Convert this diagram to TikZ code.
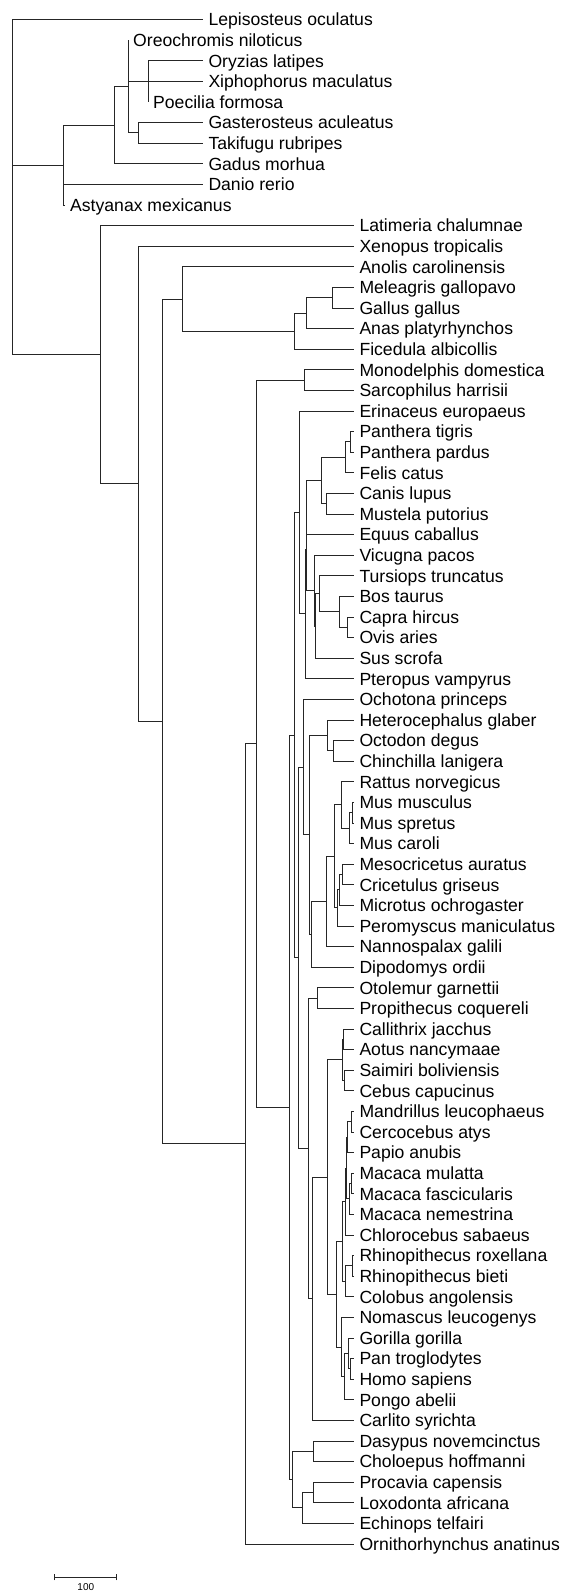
\documentclass[tikz,border=0pt]{standalone}
\usepackage{fontspec}
\setmainfont{Liberation Sans}
\tikzset{
  br/.style={line width=1pt, draw=black!85},
  lab/.style={anchor=west, inner xsep=5pt, inner ysep=0pt, text height=12.6pt, text depth=0pt, font=\fontsize{17.6}{20}\selectfont},
  sblab/.style={inner sep=0pt, text height=7.2pt, text depth=0pt, font=\fontsize{10}{12}\selectfont},
}
\newcommand\leaf[4]{\node[lab] (#1) at (#2,{19.6+(#3-1)*20.6}) {#4};}
\newcommand\el[2]{\draw[br] (#1) |- (#2.west);}
\newcommand\ei[2]{\draw[br] (#1) |- (#2);}
\begin{document}
\begin{tikzpicture}[x=1pt,y=-1pt]
\useasboundingbox (0,0) rectangle (565,1591);
% leaves
\leaf{L1}{203.3}{1}{Lepisosteus oculatus}
\leaf{L2}{128}{2}{Oreochromis niloticus}
\leaf{L3}{203.3}{3}{Oryzias latipes}
\leaf{L4}{203.3}{4}{Xiphophorus maculatus}
\leaf{L5}{148}{5}{Poecilia formosa}
\leaf{L6}{203.3}{6}{Gasterosteus aculeatus}
\leaf{L7}{203.3}{7}{Takifugu rubripes}
\leaf{L8}{203.3}{8}{Gadus morhua}
\leaf{L9}{203.3}{9}{Danio rerio}
\leaf{L10}{65}{10}{Astyanax mexicanus}
\leaf{L11}{354.3}{11}{Latimeria chalumnae}
\leaf{L12}{354.3}{12}{Xenopus tropicalis}
\leaf{L13}{354.3}{13}{Anolis carolinensis}
\leaf{L14}{354.3}{14}{Meleagris gallopavo}
\leaf{L15}{354.3}{15}{Gallus gallus}
\leaf{L16}{354.3}{16}{Anas platyrhynchos}
\leaf{L17}{354.3}{17}{Ficedula albicollis}
\leaf{L18}{354.3}{18}{Monodelphis domestica}
\leaf{L19}{354.3}{19}{Sarcophilus harrisii}
\leaf{L20}{354.3}{20}{Erinaceus europaeus}
\leaf{L21}{354.3}{21}{Panthera tigris}
\leaf{L22}{354.3}{22}{Panthera pardus}
\leaf{L23}{354.3}{23}{Felis catus}
\leaf{L24}{354.3}{24}{Canis lupus}
\leaf{L25}{354.3}{25}{Mustela putorius}
\leaf{L26}{354.3}{26}{Equus caballus}
\leaf{L27}{354.3}{27}{Vicugna pacos}
\leaf{L28}{354.3}{28}{Tursiops truncatus}
\leaf{L29}{354.3}{29}{Bos taurus}
\leaf{L30}{354.3}{30}{Capra hircus}
\leaf{L31}{354.3}{31}{Ovis aries}
\leaf{L32}{354.3}{32}{Sus scrofa}
\leaf{L33}{354.3}{33}{Pteropus vampyrus}
\leaf{L34}{354.3}{34}{Ochotona princeps}
\leaf{L35}{354.3}{35}{Heterocephalus glaber}
\leaf{L36}{354.3}{36}{Octodon degus}
\leaf{L37}{354.3}{37}{Chinchilla lanigera}
\leaf{L38}{354.3}{38}{Rattus norvegicus}
\leaf{L39}{354.3}{39}{Mus musculus}
\leaf{L40}{354.3}{40}{Mus spretus}
\leaf{L41}{354.3}{41}{Mus caroli}
\leaf{L42}{354.3}{42}{Mesocricetus auratus}
\leaf{L43}{354.3}{43}{Cricetulus griseus}
\leaf{L44}{354.3}{44}{Microtus ochrogaster}
\leaf{L45}{354.3}{45}{Peromyscus maniculatus}
\leaf{L46}{354.3}{46}{Nannospalax galili}
\leaf{L47}{354.3}{47}{Dipodomys ordii}
\leaf{L48}{354.3}{48}{Otolemur garnettii}
\leaf{L49}{354.3}{49}{Propithecus coquereli}
\leaf{L50}{354.3}{50}{Callithrix jacchus}
\leaf{L51}{354.3}{51}{Aotus nancymaae}
\leaf{L52}{354.3}{52}{Saimiri boliviensis}
\leaf{L53}{354.3}{53}{Cebus capucinus}
\leaf{L54}{354.3}{54}{Mandrillus leucophaeus}
\leaf{L55}{354.3}{55}{Cercocebus atys}
\leaf{L56}{354.3}{56}{Papio anubis}
\leaf{L57}{354.3}{57}{Macaca mulatta}
\leaf{L58}{354.3}{58}{Macaca fascicularis}
\leaf{L59}{354.3}{59}{Macaca nemestrina}
\leaf{L60}{354.3}{60}{Chlorocebus sabaeus}
\leaf{L61}{354.3}{61}{Rhinopithecus roxellana}
\leaf{L62}{354.3}{62}{Rhinopithecus bieti}
\leaf{L63}{354.3}{63}{Colobus angolensis}
\leaf{L64}{354.3}{64}{Nomascus leucogenys}
\leaf{L65}{354.3}{65}{Gorilla gorilla}
\leaf{L66}{354.3}{66}{Pan troglodytes}
\leaf{L67}{354.3}{67}{Homo sapiens}
\leaf{L68}{354.3}{68}{Pongo abelii}
\leaf{L69}{354.3}{69}{Carlito syrichta}
\leaf{L70}{354.3}{70}{Dasypus novemcinctus}
\leaf{L71}{354.3}{71}{Choloepus hoffmanni}
\leaf{L72}{354.3}{72}{Procavia capensis}
\leaf{L73}{354.3}{73}{Loxodonta africana}
\leaf{L74}{354.3}{74}{Echinops telfairi}
\leaf{L75}{354.3}{75}{Ornithorhynchus anatinus}
% internal nodes
\coordinate (root) at (12,187);
\coordinate (nTel) at (63,165.1);
\coordinate (nB) at (114,125.2);
\coordinate (nA) at (128,86.55);
\coordinate (nOXP) at (148,81.4);
\coordinate (nGT) at (138,132.9);
\coordinate (nSar) at (100,354.7);
\coordinate (nTet) at (138,483.8);
\coordinate (nAmn) at (162,721.45);
\coordinate (nSau) at (182,299.0);
\coordinate (nAve) at (294,331.2);
\coordinate (nGal) at (306,313.15);
\coordinate (nMG) at (332,297.7);
\coordinate (nMam) at (245,1143.9);
\coordinate (nThe) at (256,743.75);
\coordinate (nMar) at (304,380.1);
\coordinate (nEut) at (289.3,1107.4);
\coordinate (nAtl) at (292.3,1479.6);
\coordinate (nXen) at (313.3,1451.3);
\coordinate (nAfr) at (302.7,1507.95);
\coordinate (nPL) at (313.3,1492.5);
\coordinate (nBor) at (294.3,735.15);
\coordinate (nLau) at (299.3,512.5);
\coordinate (nSco) at (305.8,613.95);
\coordinate (nCEC) at (306.3,549.1);
\coordinate (nCE) at (306.7,507.55);
\coordinate (nCar) at (321,480.5);
\coordinate (nFel) at (345,457.35);
\coordinate (nFel2) at (350,441.9);
\coordinate (nCan) at (326,503.7);
\coordinate (nCet) at (314.3,590.6);
\coordinate (nSCR) at (315.8,626.0);
\coordinate (nCR) at (319.3,593.8);
\coordinate (nBov) at (339,611.85);
\coordinate (nCO) at (347.7,627.3);
\coordinate (nEua) at (298.7,957.8);
\coordinate (nGli) at (303.3,767.15);
\coordinate (nRod) at (309.3,834.9);
\coordinate (nHys) at (327.3,735.45);
\coordinate (nOC) at (333.3,750.9);
\coordinate (nMyo) at (311,934.4);
\coordinate (nMuro) at (326.7,901.55);
\coordinate (nEum) at (334.3,856.5);
\coordinate (nMur) at (341,804.95);
\coordinate (nMus) at (349.3,828.15);
\coordinate (nMusB) at (352.7,812.7);
\coordinate (nCri) at (337,907.98);
\coordinate (nMCM) at (339.7,889.95);
\coordinate (nMC) at (342.3,874.5);
\coordinate (nPri) at (308.7,1148.4);
\coordinate (nStr) at (317.7,998.1);
\coordinate (nHap) at (312.5,1298.7);
\coordinate (nAnt) at (327.7,1177.05);
\coordinate (nPla) at (342.3,1059.9);
\coordinate (nCA) at (343.3,1039.3);
\coordinate (nSC) at (344.3,1080.5);
\coordinate (nCat) at (336,1294.2);
\coordinate (nCer) at (342.3,1241.4);
\coordinate (nCcp) at (345.5,1201.5);
\coordinate (nPpn) at (346.5,1168.05);
\coordinate (nPap) at (347.3,1137.15);
\coordinate (nMdC) at (351,1121.7);
\coordinate (nMac) at (349.3,1198.95);
\coordinate (nMacB) at (351,1183.5);
\coordinate (nCol) at (345,1281.35);
\coordinate (nRhi) at (352.7,1265.9);
\coordinate (nHoi) at (341.7,1347.0);
\coordinate (nHom) at (344.3,1376.6);
\coordinate (nHPG) at (348.3,1353.45);
\coordinate (nHP) at (350.7,1368.9);
% branches
\el{root}{L1} \ei{root}{nTel} \ei{root}{nSar}
\ei{nTel}{nB} \el{nTel}{L9} \el{nTel}{L10}
\ei{nB}{nA} \el{nB}{L8}
\el{nA}{L2} \ei{nA}{nOXP} \ei{nA}{nGT}
\el{nOXP}{L3} \el{nOXP}{L4} \el{nOXP}{L5}
\el{nGT}{L6} \el{nGT}{L7}
\el{nSar}{L11} \ei{nSar}{nTet}
\el{nTet}{L12} \ei{nTet}{nAmn}
\ei{nAmn}{nSau} \ei{nAmn}{nMam}
\el{nSau}{L13} \ei{nSau}{nAve}
\ei{nAve}{nGal} \el{nAve}{L17}
\ei{nGal}{nMG} \el{nGal}{L16}
\el{nMG}{L14} \el{nMG}{L15}
\ei{nMam}{nThe} \el{nMam}{L75}
\ei{nThe}{nMar} \ei{nThe}{nEut}
\el{nMar}{L18} \el{nMar}{L19}
\ei{nEut}{nBor} \ei{nEut}{nAtl}
\ei{nAtl}{nXen} \ei{nAtl}{nAfr}
\el{nXen}{L70} \el{nXen}{L71}
\ei{nAfr}{nPL} \el{nAfr}{L74}
\el{nPL}{L72} \el{nPL}{L73}
\ei{nBor}{nLau} \ei{nBor}{nEua}
\el{nLau}{L20} \ei{nLau}{nSco}
\ei{nSco}{nCEC} \el{nSco}{L33}
\ei{nCEC}{nCE} \ei{nCEC}{nCet}
\ei{nCE}{nCar} \el{nCE}{L26}
\ei{nCar}{nFel} \ei{nCar}{nCan}
\ei{nFel}{nFel2} \el{nFel}{L23}
\el{nFel2}{L21} \el{nFel2}{L22}
\el{nCan}{L24} \el{nCan}{L25}
\el{nCet}{L27} \ei{nCet}{nSCR}
\ei{nSCR}{nCR} \el{nSCR}{L32}
\el{nCR}{L28} \ei{nCR}{nBov}
\el{nBov}{L29} \ei{nBov}{nCO}
\el{nCO}{L30} \el{nCO}{L31}
\ei{nEua}{nGli} \ei{nEua}{nPri}
\el{nGli}{L34} \ei{nGli}{nRod}
\ei{nRod}{nHys} \ei{nRod}{nMyo}
\el{nHys}{L35} \ei{nHys}{nOC}
\el{nOC}{L36} \el{nOC}{L37}
\ei{nMyo}{nMuro} \el{nMyo}{L47}
\ei{nMuro}{nEum} \el{nMuro}{L46}
\ei{nEum}{nMur} \ei{nEum}{nCri}
\el{nMur}{L38} \ei{nMur}{nMus}
\ei{nMus}{nMusB} \el{nMus}{L41}
\el{nMusB}{L39} \el{nMusB}{L40}
\ei{nCri}{nMCM} \el{nCri}{L45}
\ei{nMCM}{nMC} \el{nMCM}{L44}
\el{nMC}{L42} \el{nMC}{L43}
\ei{nPri}{nStr} \ei{nPri}{nHap}
\el{nStr}{L48} \el{nStr}{L49}
\ei{nHap}{nAnt} \el{nHap}{L69}
\ei{nAnt}{nPla} \ei{nAnt}{nCat}
\ei{nPla}{nCA} \ei{nPla}{nSC}
\el{nCA}{L50} \el{nCA}{L51}
\el{nSC}{L52} \el{nSC}{L53}
\ei{nCat}{nCer} \ei{nCat}{nHoi}
\ei{nCer}{nCcp} \ei{nCer}{nCol}
\ei{nCcp}{nPpn} \el{nCcp}{L60}
\ei{nPpn}{nPap} \ei{nPpn}{nMac}
\ei{nPap}{nMdC} \el{nPap}{L56}
\el{nMdC}{L54} \el{nMdC}{L55}
\ei{nMac}{nMacB} \el{nMac}{L59}
\el{nMacB}{L57} \el{nMacB}{L58}
\ei{nCol}{nRhi} \el{nCol}{L63}
\el{nRhi}{L61} \el{nRhi}{L62}
\el{nHoi}{L64} \ei{nHoi}{nHom}
\ei{nHom}{nHPG} \el{nHom}{L68}
\el{nHPG}{L65} \ei{nHPG}{nHP}
\el{nHP}{L66} \el{nHP}{L67}
% scale bar
\coordinate (sbL) at (54,1577);
\coordinate (sbR) at (116,1577);
\draw[br] (sbL) -- (sbR);
\draw[br] ([yshift=-3.3pt]sbL) -- ([yshift=3.3pt]sbL);
\draw[br] ([yshift=-3.3pt]sbR) -- ([yshift=3.3pt]sbR);
\node[sblab] (sbt) at (85.8,1587) {100};
\end{tikzpicture}
\end{document}
